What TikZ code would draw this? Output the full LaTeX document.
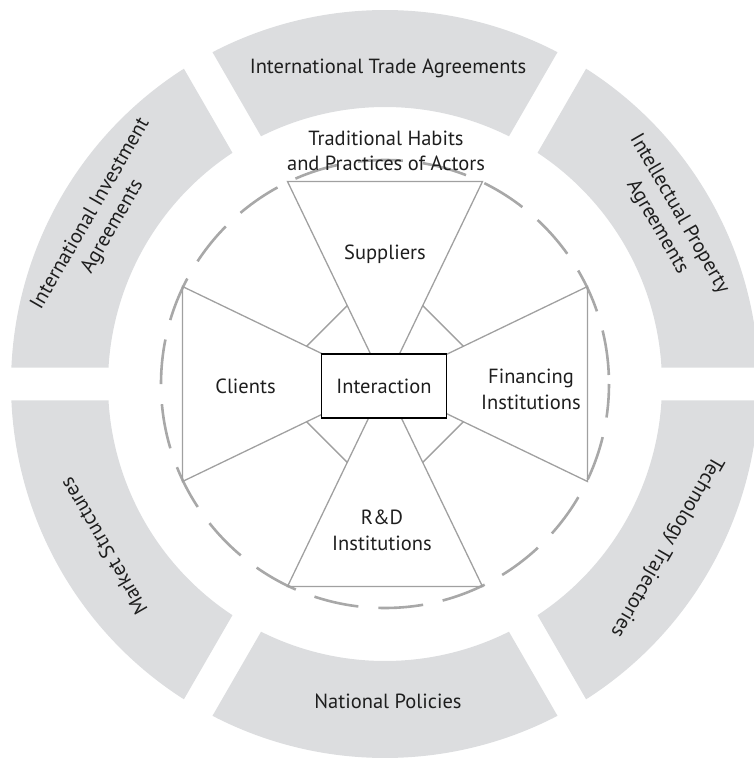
\documentclass[tikz,border=0pt]{standalone}
\usepackage{fontspec}
\setmainfont{PT Sans}
\definecolor{ringgray}{HTML}{DCDDDF}
\definecolor{linegray}{HTML}{A0A0A0}
\definecolor{dashgray}{HTML}{A8A8A8}
\definecolor{txt}{HTML}{1E1E1E}
\begin{document}
\begin{tikzpicture}[x=1pt,y=1pt,
  lbl/.style={text=txt,font=\fontsize{20.5}{25.5}\selectfont,inner sep=0pt,align=center},
  thin/.style={draw=linegray,line width=1.3pt},
  ring/.style={fill=ringgray}]
\useasboundingbox (-385,-374) rectangle (368,384);
% outer ring segments
\foreach \c in {30,90,150,210,270,330}{
  \fill[ring] (\c-30+2.529:374) arc[start angle=\c-30+2.529, end angle=\c+30-2.529, radius=374]
    -- (\c+30-3.415:277) arc[start angle=\c+30-3.415, end angle=\c-30+3.415, radius=277] -- cycle;
}
% dashed circle
\draw[dashgray,line width=2.6pt,dash pattern=on 45pt off 20pt,dash phase=56pt] (0,0) circle[radius=224];
% triangles
\coordinate (c) at (0,0);
\foreach \a in {0,90,180,270}{
  \draw[thin,rotate=\a] (c) -- (202.5,97.5) -- (202.5,-97.5) -- cycle;
}
\foreach \d in {45,135,225,315}{
  \draw[thin] (\d-19.29:87) -- (\d+19.29:87);
}
% center box
\node[draw=black,line width=1.6pt,fill=white,minimum width=125,minimum height=64,inner sep=0pt,text=txt,font=\fontsize{20.5}{25}\selectfont] (inter) at (-1,-2) {Interaction};
% inner labels (anchor=base is the baseline of the last line)
\node[lbl,anchor=base] (sup) at (0,124) {Suppliers};
\node[lbl,anchor=base] (cli) at (-139.5,-9) {Clients};
\node[lbl,anchor=base] (fin) at (146,-25) {Financing\\Institutions};
\node[lbl,anchor=base] (rnd) at (-3,-166) {R\&D\\Institutions};
\node[lbl,anchor=base,font=\fontsize{20.5}{25}\selectfont] (trad) at (1,213) {Traditional Habits\\and Practices of Actors};
% ring labels
\node[lbl,anchor=base] (ita) at (3,310) {International Trade Agreements};
\node[lbl,anchor=base] (np) at (3,-324) {National Policies};
\node[lbl,rotate=60] (iia) at (150:327) {International Investment\\Agreements};
\node[lbl,rotate=-60] (ipa) at (30:327) {Intellectual Property\\Agreements};
\node[lbl,rotate=240] (tt) at (-30:325) {Technology Trajectories};
\node[lbl,rotate=120] (ms) at (210:325) {Market Structures};
\end{tikzpicture}
\end{document}
